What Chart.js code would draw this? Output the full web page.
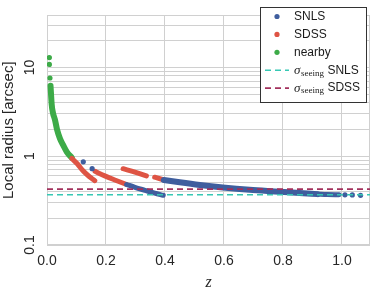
<!DOCTYPE html>
<html lang="en">
<head>
<meta charset="UTF-8">
<title>Local radius vs redshift</title>
<script src="https://cdn.jsdelivr.net/npm/chart.js"></script>
<style>
  html, body { margin: 0; padding: 0; background: #fff; }
</style>
</head>
<body>
<canvas id="radiusChart" width="374" height="293"></canvas>
<script>
// values: redshift z, local radius [arcsec]
const nearbyDotsZ = [0.008, 0.008, 0.010];
const nearbyDotsR = [12.9, 10.8, 7.6];
const nearbyZ = [0.012, 0.016, 0.020, 0.027, 0.034, 0.044, 0.055, 0.067, 0.084];
const nearbyR = [6.2, 3.8, 3.1, 2.57, 2.0, 1.58, 1.33, 1.12, 0.96];

const sdssZ1 = [0.084, 0.102, 0.123, 0.142, 0.162];
const sdssR1 = [0.945, 0.827, 0.68, 0.595, 0.53];
const sdssZ2 = [0.163, 0.196, 0.230, 0.270];
const sdssR2 = [0.675, 0.60, 0.54, 0.48];
const sdssZ3 = [0.258, 0.298, 0.337];
const sdssR3 = [0.723, 0.66, 0.599];
const sdssZ4 = [0.365, 0.394];
const sdssR4 = [0.58, 0.543];

const snlsDotsZ = [0.123, 0.153, 1.01, 1.035, 1.063];
const snlsDotsR = [0.864, 0.723, 0.367, 0.366, 0.363];
const snlsZ1 = [0.270, 0.298, 0.332, 0.365, 0.394];
const snlsR1 = [0.48, 0.446, 0.413, 0.384, 0.363];
const snlsZ2 = [0.396, 0.45, 0.518, 0.596, 0.687, 0.789, 0.856, 0.917];
const snlsR2 = [0.54, 0.508, 0.474, 0.444, 0.418, 0.398, 0.384, 0.374];
const snlsZ3 = [0.917, 0.95, 0.99];
const snlsR3 = [0.374, 0.370, 0.368];

const sigmaSNLS = 0.368;
const sigmaSDSS = 0.426;

const xRange = [0, 1.095];
const yRange = [0.1, 38.5];
const xTicks = [0, 0.2, 0.4, 0.6, 0.8, 1.0];
const yGrid = [0.1, 0.2, 0.3, 0.4, 0.5, 0.6, 0.7, 0.8, 0.9,
               1, 2, 3, 4, 5, 6, 7, 8, 9, 10, 20, 30];
const yLabels = [0.1, 1, 10];

const blue = '#3f5e9e';
const red = '#de5444';
const green = '#3dab48';
const cyan = '#36c8b4';
const maroon = '#a2305c';

function pts(zs, rs) {
    return zs.map((z, i) => ({ x: z, y: rs[i] }));
}

function band(zs, rs, color, width) {
    return {
        data: pts(zs, rs),
        showLine: true,
        borderColor: color,
        backgroundColor: color,
        borderWidth: width,
        borderCapStyle: 'round',
        borderJoinStyle: 'round',
        cubicInterpolationMode: 'monotone',
        pointRadius: 0
    };
}

function dots(zs, rs, color) {
    return {
        data: pts(zs, rs),
        showLine: false,
        pointRadius: 2.6,
        pointBackgroundColor: color,
        pointBorderWidth: 0
    };
}

function hline(value, color) {
    return {
        data: [{ x: xRange[0], y: value }, { x: xRange[1], y: value }],
        showLine: true,
        borderColor: color,
        borderWidth: 1.6,
        borderDash: [6, 4],
        pointRadius: 0
    };
}

// light frame round the plot area
const frame = {
    id: 'frame',
    beforeDatasetsDraw(chart) {
        const a = chart.chartArea;
        const ctx = chart.ctx;
        ctx.save();
        ctx.strokeStyle = '#d0d0d0';
        ctx.lineWidth = 1;
        ctx.strokeRect(Math.round(a.left) + 0.5, Math.round(a.top) + 0.5,
            Math.round(a.right - a.left) - 1, Math.round(a.bottom - a.top) - 1);
        ctx.restore();
    }
};

// legend box drawn inside the plot, top right
const legendEntries = [
    { kind: 'dot', color: blue, text: 'SNLS' },
    { kind: 'dot', color: red, text: 'SDSS' },
    { kind: 'dot', color: green, text: 'nearby' },
    { kind: 'dash', color: cyan, text: 'SNLS' },
    { kind: 'dash', color: maroon, text: 'SDSS' }
];

const legendBox = {
    id: 'legendBox',
    afterDraw(chart) {
        const ctx = chart.ctx;
        ctx.save();
        ctx.fillStyle = '#ffffff';
        ctx.fillRect(260.5, 7.5, 106, 95);
        ctx.strokeStyle = '#333333';
        ctx.lineWidth = 1;
        ctx.strokeRect(260.5, 7.5, 106, 95);
        ctx.textBaseline = 'middle';
        legendEntries.forEach((e, i) => {
            const y = 16.5 + i * 17.9;
            if (e.kind === 'dot') {
                ctx.fillStyle = e.color;
                ctx.beginPath();
                ctx.arc(277, y, 2.6, 0, Math.PI * 2);
                ctx.fill();
            } else {
                ctx.strokeStyle = e.color;
                ctx.lineWidth = 1.6;
                ctx.setLineDash([6, 4]);
                ctx.beginPath();
                ctx.moveTo(265, y);
                ctx.lineTo(289, y);
                ctx.stroke();
                ctx.setLineDash([]);
            }
            ctx.fillStyle = '#1a1a1a';
            let x = 294;
            if (e.kind === 'dash') {
                ctx.font = 'italic 13px "Liberation Serif"';
                ctx.fillText('σ', x, y);
                x += ctx.measureText('σ').width + 0.5;
                ctx.font = '9px "Liberation Serif"';
                ctx.fillText('seeing', x, y + 3);
                x += ctx.measureText('seeing').width + 3.5;
            }
            ctx.font = '12px "Liberation Sans"';
            ctx.fillText(e.text, x, y);
        });
        ctx.restore();
    }
};

Chart.defaults.font.family = '"Liberation Sans", Arial, sans-serif';
Chart.defaults.color = '#262626';

new Chart(document.getElementById('radiusChart'), {
    type: 'scatter',
    data: {
        datasets: [
            hline(sigmaSDSS, maroon),
            hline(sigmaSNLS, cyan),
            dots(snlsDotsZ, snlsDotsR, blue),
            band(snlsZ1, snlsR1, blue, 5),
            band(snlsZ2, snlsR2, blue, 6),
            band(snlsZ3, snlsR3, blue, 5),
            band(sdssZ1, sdssR1, red, 5),
            band(sdssZ2, sdssR2, red, 5),
            band(sdssZ3, sdssR3, red, 5),
            band(sdssZ4, sdssR4, red, 5),
            dots(nearbyDotsZ, nearbyDotsR, green),
            band(nearbyZ, nearbyR, green, 6)
        ]
    },
    options: {
        responsive: false,
        animation: false,
        layout: { padding: { top: 2, right: 3, left: 0, bottom: 0 } },
        plugins: {
            legend: { display: false },
            tooltip: { enabled: false }
        },
        scales: {
            x: {
                type: 'linear',
                min: xRange[0],
                max: xRange[1],
                afterBuildTicks: s => { s.ticks = xTicks.map(v => ({ value: v })); },
                afterFit: s => { s.height = 48; },
                ticks: {
                    autoSkip: false,
                    maxRotation: 0,
                    padding: 8,
                    font: { size: 14 },
                    callback: v => Number(v).toFixed(1)
                },
                grid: { color: '#d0d0d0', drawTicks: false },
                border: { display: false },
                title: {
                    display: true,
                    text: 'z',
                    font: { family: '"Liberation Serif"', style: 'italic', size: 16 },
                    padding: { top: 0, bottom: 1 }
                }
            },
            y: {
                type: 'logarithmic',
                min: yRange[0],
                max: yRange[1],
                afterBuildTicks: s => { s.ticks = yGrid.map(v => ({ value: v })); },
                afterFit: s => { s.width = 47; },
                ticks: {
                    autoSkip: false,
                    minRotation: 90,
                    maxRotation: 90,
                    crossAlign: 'center',
                    padding: 7,
                    font: { size: 14 },
                    callback: v => yLabels.includes(v) ? String(v) : ''
                },
                grid: { color: '#d0d0d0', drawTicks: false },
                border: { display: false },
                title: {
                    display: true,
                    text: 'Local radius [arcsec]',
                    font: { size: 15 },
                    padding: 0
                }
            }
        }
    },
    plugins: [frame, legendBox]
});
</script>
</body>
</html>
